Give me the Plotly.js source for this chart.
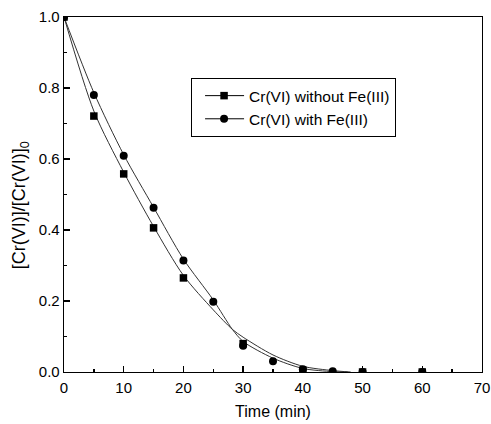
<!DOCTYPE html>
<html>
<head>
<meta charset="utf-8">
<script src="https://cdn.plot.ly/plotly-3.0.1.min.js"></script>
<style>html,body{margin:0;padding:0;background:#fff;}#chart{width:491px;height:424px;}</style>
</head>
<body>
<div id="chart"></div>
<script>
// Measured points
const tWithout = [0, 5, 10, 15, 20, 30, 40, 50, 60];
const cWithout = [1.0, 0.721, 0.558, 0.406, 0.265, 0.080, 0.005, 0.0, 0.0];
const tWith = [0, 5, 10, 15, 20, 25, 30, 35, 40, 45, 50, 60];
const cWith = [1.0, 0.780, 0.609, 0.463, 0.314, 0.198, 0.074, 0.030, 0.008, 0.002, 0.0, 0.0];

// Fitted curves
const fitTWithout = [0, 5, 10, 15, 20, 25, 28.2, 30, 35, 40, 45, 48];
const fitCWithout = [1.0, 0.735, 0.563, 0.410, 0.272, 0.175, 0.120, 0.098, 0.048, 0.016, 0.004, 0.0];
const fitTWith = [0, 5, 10, 15, 20, 25, 28.2, 30, 35, 40, 45, 47.5];
const fitCWith = [1.0, 0.787, 0.612, 0.464, 0.318, 0.203, 0.120, 0.086, 0.039, 0.010, 0.001, 0.0];

const seriesNames = ["Cr(VI) without Fe(III)", "Cr(VI) with Fe(III)"];
const xTitle = "Time (min)";
const yTitle = "[Cr(VI)]/[Cr(VI)]<sub>0</sub>";

const FONT = "Liberation Sans, Arial, sans-serif";
const lineStyle = {color: "#333333", width: 1, shape: "spline", smoothing: 0.8};

const data = [
  {x: fitTWithout, y: fitCWithout, mode: "lines", line: lineStyle, showlegend: false, hoverinfo: "skip"},
  {x: fitTWith, y: fitCWith, mode: "lines", line: lineStyle, showlegend: false, hoverinfo: "skip"},
  {x: tWithout, y: cWithout, mode: "markers", name: seriesNames[0],
   marker: {symbol: "square", size: 7.5, color: "#000"}, showlegend: false},
  {x: tWith, y: cWith, mode: "markers", name: seriesNames[1],
   marker: {symbol: "circle", size: 8, color: "#000"}, showlegend: false},
  // legend entries (line + marker)
  {x: [null], y: [null], mode: "lines+markers", name: seriesNames[0],
   line: {color: "#000", width: 1}, marker: {symbol: "square", size: 7.5, color: "#000"}},
  {x: [null], y: [null], mode: "lines+markers", name: seriesNames[1],
   line: {color: "#000", width: 1}, marker: {symbol: "circle", size: 8, color: "#000"}}
];

const axisCommon = {
  showline: true, mirror: true, linecolor: "#000", linewidth: 1.3,
  ticks: "inside", ticklen: 6, tickwidth: 1.3, tickcolor: "#000",
  showgrid: false, zeroline: false,
  tickfont: {family: FONT, size: 15, color: "#000"}
};

const layout = {
  width: 491, height: 424,
  margin: {l: 64, r: 9, t: 17, b: 52},
  paper_bgcolor: "#fff", plot_bgcolor: "#fff",
  font: {family: FONT, color: "#000"},
  xaxis: Object.assign({}, axisCommon, {
    range: [0, 70], dtick: 10, tick0: 0, ticklabelstandoff: 2,
    minor: {dtick: 5, ticks: "inside", ticklen: 3, tickwidth: 1.3, tickcolor: "#000"},
    title: {text: xTitle, font: {family: FONT, size: 16, color: "#000"}, standoff: 10}
  }),
  yaxis: Object.assign({}, axisCommon, {
    range: [0, 1.0], dtick: 0.2, tick0: 0, tickformat: ".1f",
    minor: {dtick: 0.1, ticks: "inside", ticklen: 3, tickwidth: 1.3, tickcolor: "#000"}
  }),
  annotations: [{
    text: yTitle, xref: "paper", yref: "paper", x: -0.105, y: 0.47,
    xanchor: "center", yanchor: "middle", textangle: -90, showarrow: false,
    font: {family: FONT, size: 18, color: "#000"}
  }],
  legend: {
    x: 0.304, y: 0.828, xanchor: "left", yanchor: "top",
    bordercolor: "#000", borderwidth: 1, bgcolor: "#fff",
    font: {family: FONT, size: 15.5, color: "#000"}, tracegroupgap: 0, itemwidth: 47
  }
};

Plotly.newPlot("chart", data, layout, {staticPlot: true, displayModeBar: false}).then(function (gd) {
  // lengthen the legend sample lines to match the reference
  gd.querySelectorAll(".legend .legendlines path").forEach(function (p) {
    p.setAttribute("d", "M13,0h39");
  });
  gd.querySelectorAll(".legend .legendpoints path").forEach(function (p) {
    p.setAttribute("transform", "translate(32,0)");
  });
});
</script>
</body>
</html>
